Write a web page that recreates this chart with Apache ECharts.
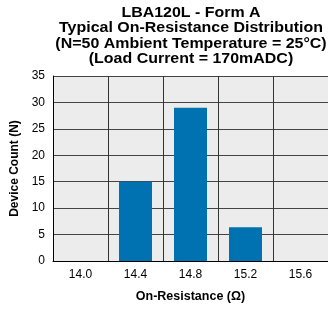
<!DOCTYPE html>
<html lang="en">
<head>
  <meta charset="UTF-8">
  <title>LBA120L - Form A</title>
  <style>
    * { padding: 0; margin: 0; }
    body { background: #fff; }
    #chart { width: 328px; height: 310px; }
  </style>
</head>
<body>
  <div id="chart"></div>
  <script src="https://cdn.jsdelivr.net/npm/echarts@6/dist/echarts.min.js"></script>
  <script>
    const categories = ['14.0', '14.4', '14.8', '15.2', '15.6'];
    const counts = [0, 15, 29, 6.4, 0];
    const titleLines = [
      'LBA120L - Form A',
      'Typical On-Resistance Distribution',
      '(N=50 Ambient Temperature = 25°C)',
      '(Load Current = 170mADC)'
    ];

    const font = 'Liberation Sans, Arial, sans-serif';
    const chart = echarts.init(document.getElementById('chart'));

    chart.setOption({
      animation: false,
      // the original title is set in a wide bold face, so stretch it a bit
      graphic: [
        {
          type: 'text',
          x: 191,
          y: 5,
          scaleX: 1.14,
          style: {
            text: titleLines.join('\n'),
            x: 0,
            y: 0,
            align: 'center',
            verticalAlign: 'top',
            fontFamily: font,
            fontSize: 14,
            fontWeight: 'bold',
            lineHeight: 15.5,
            fill: '#000'
          }
        }
      ],
      grid: {
        left: 53,
        top: 76,
        width: 276,
        height: 185,
        show: true,
        backgroundColor: '#ececec',
        borderWidth: 0
      },
      xAxis: {
        type: 'category',
        data: categories,
        name: 'On-Resistance (Ω)',
        nameLocation: 'middle',
        nameGap: 29,
        nameTextStyle: { fontFamily: font, fontSize: 12.5, fontWeight: 'bold', color: '#000' },
        axisLine: { lineStyle: { color: '#000', width: 1 } },
        axisTick: { show: false },
        axisLabel: { fontFamily: font, fontSize: 12, color: '#000', margin: 8 },
        splitLine: { show: true, lineStyle: { color: '#333', width: 1 } }
      },
      yAxis: {
        type: 'value',
        min: 0,
        max: 35,
        interval: 5,
        name: 'Device Count (N)',
        nameLocation: 'middle',
        nameGap: 32,
        nameTextStyle: { fontFamily: font, fontSize: 12, fontWeight: 'bold', color: '#000' },
        axisLine: { show: true, lineStyle: { color: '#000', width: 1 } },
        axisTick: { show: false },
        axisLabel: { fontFamily: font, fontSize: 12, color: '#000', margin: 8 },
        splitLine: { show: true, lineStyle: { color: '#444', width: 1 } }
      },
      series: [
        {
          type: 'bar',
          data: counts,
          barWidth: '60%',
          itemStyle: { color: '#0072b2' }
        }
      ]
    });
  </script>
</body>
</html>
